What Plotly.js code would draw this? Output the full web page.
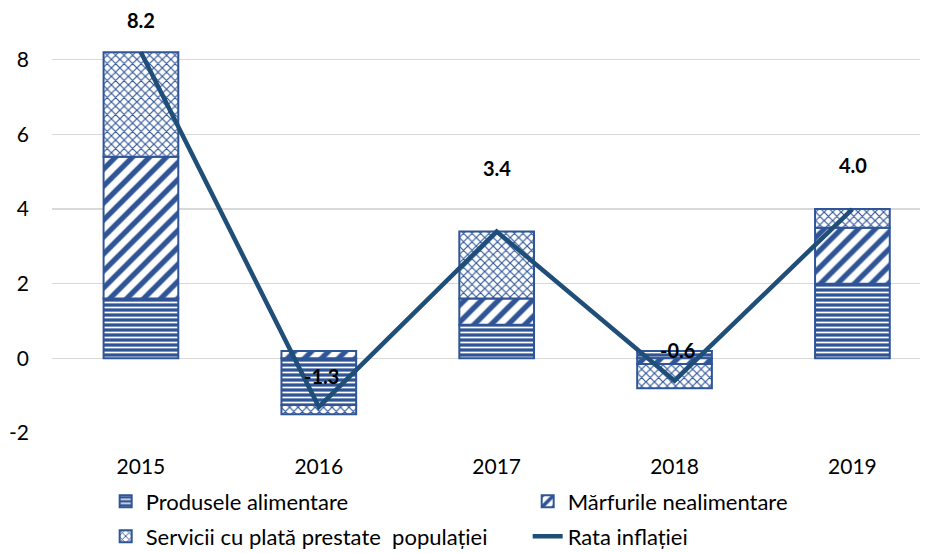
<!DOCTYPE html>
<html><head><meta charset="utf-8">
<script src="https://cdn.plot.ly/plotly-3.0.1.min.js"></script>
<style>html,body{margin:0;padding:0;background:#fff}#chart{width:927px;height:553px}</style>
</head><body><div id="chart"></div>
<script>
const years = ['2015','2016','2017','2018','2019'];
const food = [1.6, -1.25, 0.9, 0.2, 2.0];
const nonfood = [3.8, 0.2, 0.7, -0.15, 1.5];
const services = [2.8, -0.25, 1.8, -0.65, 0.5];
const inflation = [8.2, -1.3, 3.4, -0.6, 4.0];
const names = ['Produsele alimentare', 'Mărfurile nealimentare', 'Servicii cu plată prestate  populației', 'Rata inflației'];
const yTicks = [-2, 0, 2, 4, 6, 8];
const yTickText = ['-2', '0', '2', '4', '6', '8'];

const labelShiftY = [32, 31, 63, 31, 44];
const labelShiftX = [0, 3, 0, 3, 1];
const blue = '#2F5597';
const dark = '#1F4E79';
const font = 'Lato, "Liberation Sans", sans-serif';

function bar(vals, name, pattern, legend) {
  return {type:'bar', x:years, y:vals, name:name, width:0.42, legend:legend,
    marker:{color:pattern.bg, line:{color:blue, width:2}, pattern:pattern.p},
    hoverinfo:'skip'};
}
const traces = [
  bar(food, names[0], {bg:blue, p:{shape:'-', fgcolor:'#ffffff', bgcolor:blue, size:5, solidity:0.35, fillmode:'replace'}}, 'legend'),
  bar(nonfood, names[1], {bg:'#ffffff', p:{shape:'/', fgcolor:blue, bgcolor:'#ffffff', size:12, solidity:0.45, fillmode:'replace'}}, 'legend'),
  bar(services, names[2], {bg:'#ffffff', p:{shape:'x', fgcolor:blue, bgcolor:'#ffffff', size:6, solidity:0.35, fillmode:'replace'}}, 'legend2'),
  {type:'scatter', mode:'lines', x:years, y:inflation, name:names[3], legend:'legend2',
   line:{color:dark, width:4.5}, hoverinfo:'skip'}
];

const annotations = years.map((y,i)=>({x:i, y:inflation[i], xref:'x', yref:'y',
  text:'<b>'+inflation[i].toFixed(1)+'</b>', showarrow:false, yshift:labelShiftY[i], xshift:labelShiftX[i],
  font:{family:font, size:20, color:'#000'}}));

function legendAt(yc) {
  return {orientation:'h', xref:'container', yref:'container', x:0.114, y:yc, xanchor:'left', yanchor:'middle',
    entrywidth:377, entrywidthmode:'pixels',
    font:{family:font, size:22, color:'#000'}, bgcolor:'rgba(0,0,0,0)', itemwidth:30, traceorder:'normal'};
}

const layout = {
  width:927, height:553, margin:{l:52, r:7, t:0, b:120, autoexpand:false},
  paper_bgcolor:'#fff', plot_bgcolor:'#fff',
  barmode:'relative', showlegend:true,
  font:{family:font, size:21, color:'#000'},
  xaxis:{type:'category', range:[-0.5, 4.38], showgrid:false, zeroline:false, showline:false, ticks:'',
    ticklabelstandoff:19, tickfont:{family:font, size:21, color:'#000'}},
  yaxis:{range:[-2, 9.6], tickvals:yTicks, ticktext:yTickText, showgrid:true, gridcolor:'#D9D9D9', gridwidth:1.3,
    zeroline:true, zerolinecolor:'#D9D9D9', zerolinewidth:1.3, showline:false, ticks:'', ticklabelstandoff:22,
    tickfont:{family:font, size:21, color:'#000'}},
  legend:legendAt(0.093),
  legend2:legendAt(0.03),
  annotations:annotations
};
Plotly.newPlot('chart', traces, layout, {staticPlot:true, displayModeBar:false});
</script></body></html>
